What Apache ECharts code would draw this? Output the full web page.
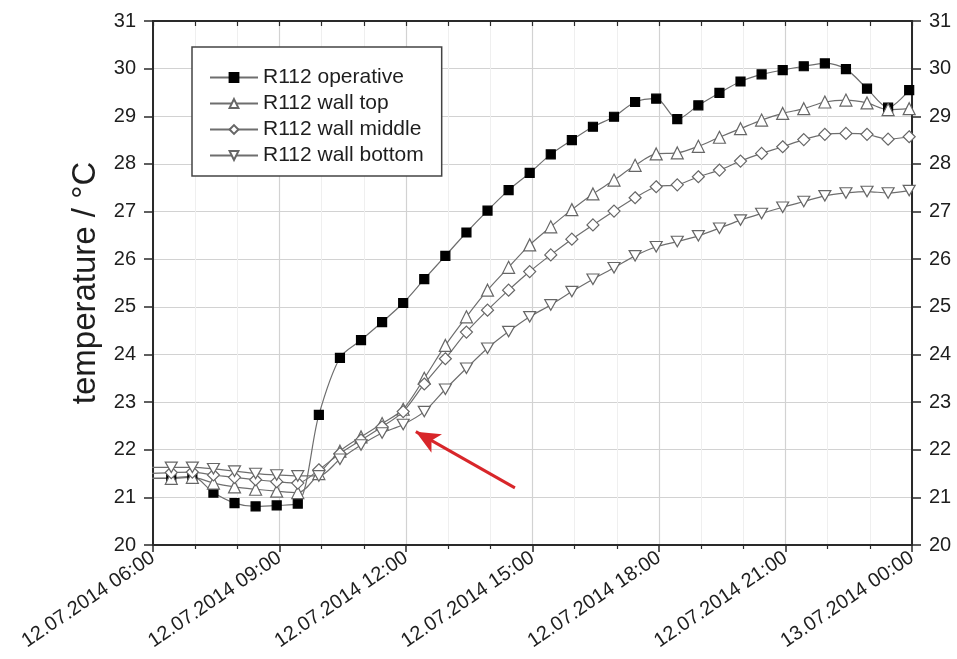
<!DOCTYPE html>
<html>
<head>
<meta charset="utf-8">
<script src="https://cdn.jsdelivr.net/npm/echarts@6/dist/echarts.min.js"></script>
<style>
  html, body { margin: 0; padding: 0; background: #fff; }
  #chart { width: 957px; height: 659px; }
</style>
</head>
<body>
<div id="chart"></div>
<script>
// Measurement times on 12.07.2014 (half-hourly readings)
const times = ['05:56','06:26','06:56','07:26','07:56','08:26','08:56','09:26','09:56','10:26',
  '10:56','11:26','11:56','12:26','12:56','13:26','13:56','14:26','14:56','15:26',
  '15:56','16:26','16:56','17:26','17:56','18:26','18:56','19:26','19:56','20:26',
  '20:56','21:26','21:56','22:26','22:56','23:26','23:56'];

// Temperatures in °C
const operative = [21.40, 21.41, 21.44, 21.10, 20.88, 20.81, 20.83, 20.87, 22.73, 23.93,
  24.30, 24.68, 25.08, 25.58, 26.07, 26.56, 27.02, 27.45, 27.81, 28.20,
  28.50, 28.78, 28.99, 29.30, 29.37, 28.94, 29.23, 29.49, 29.73, 29.88,
  29.97, 30.05, 30.11, 29.99, 29.58, 29.18, 29.55];
const wallTop = [21.40, 21.40, 21.42, 21.30, 21.22, 21.17, 21.13, 21.10, 21.50, 21.97,
  22.27, 22.55, 22.85, 23.50, 24.19, 24.79, 25.35, 25.83, 26.30, 26.68,
  27.04, 27.37, 27.66, 27.97, 28.21, 28.23, 28.37, 28.56, 28.74, 28.92,
  29.06, 29.16, 29.30, 29.34, 29.28, 29.14, 29.16];
const wallMiddle = [21.50, 21.52, 21.53, 21.47, 21.42, 21.37, 21.33, 21.30, 21.58, 21.92,
  22.20, 22.48, 22.80, 23.38, 23.91, 24.47, 24.93, 25.35, 25.74, 26.09,
  26.42, 26.72, 27.01, 27.29, 27.52, 27.56, 27.73, 27.87, 28.06, 28.22,
  28.36, 28.51, 28.62, 28.64, 28.62, 28.52, 28.57];
const wallBottom = [21.63, 21.63, 21.63, 21.60, 21.55, 21.50, 21.47, 21.45, 21.45, 21.80,
  22.10, 22.35, 22.53, 22.80, 23.27, 23.71, 24.13, 24.48, 24.79, 25.04,
  25.32, 25.58, 25.82, 26.07, 26.26, 26.37, 26.49, 26.65, 26.82, 26.96,
  27.09, 27.21, 27.33, 27.39, 27.42, 27.39, 27.44];

const seriesNames = ['R112 operative', 'R112 wall top', 'R112 wall middle', 'R112 wall bottom'];

// Axis tick labels (every 3 hours from 06:00)
const xTickLabels = ['12.07.2014 06:00', '12.07.2014 09:00', '12.07.2014 12:00',
  '12.07.2014 15:00', '12.07.2014 18:00', '12.07.2014 21:00', '13.07.2014 00:00'];

// Red annotation arrow: tail and head as [time, °C]
const arrowTail = ['14:35', 21.20];
const arrowHead = ['12:14', 22.38];

const hourOf = s => { const p = s.split(':').map(Number); return p[0] + p[1] / 60; };
const pairs = vals => times.map((t, i) => [hourOf(t), vals[i]]);

const FONT = '"Liberation Sans", Arial, sans-serif';
const AXIS_COLOR = '#2a2a2a';
const TEXT_COLOR = '#1e1e1e';
const LINE_COLOR = '#6e6e6e';
const downTriangle = 'path://M0,0 L10,0 L5,8.66 Z';

function lineSeries(name, vals, symbol, size, fill) {
  return {
    name: name,
    type: 'line',
    data: pairs(vals),
    xAxisIndex: 0,
    yAxisIndex: 0,
    smooth: 0.3,
    symbol: symbol,
    symbolSize: size,
    showAllSymbol: true,
    clip: true,
    lineStyle: { color: LINE_COLOR, width: 1.2 },
    itemStyle: { color: fill, borderColor: fill === '#000' ? '#000' : '#666', borderWidth: 1.2 },
    emphasis: { disabled: true }
  };
}

const series = [
  lineSeries(seriesNames[0], operative, 'rect', 9, '#000'),
  lineSeries(seriesNames[1], wallTop, 'triangle', 12, '#fff'),
  lineSeries(seriesNames[2], wallMiddle, 'diamond', 12, '#fff'),
  lineSeries(seriesNames[3], wallBottom, downTriangle, [12, 10.5], '#fff')
];

series[3].markLine = {
  silent: true,
  symbol: ['none', 'arrow'],
  symbolSize: [16, 24],
  label: { show: false },
  lineStyle: { color: '#d8262a', width: 3, type: 'solid' },
  data: [[
    { coord: [hourOf(arrowTail[0]), arrowTail[1]] },
    { coord: [hourOf(arrowHead[0]), arrowHead[1]] }
  ]]
};

const chart = echarts.init(document.getElementById('chart'), null, { renderer: 'canvas' });

chart.setOption({
  animation: false,
  backgroundColor: '#fff',
  textStyle: { fontFamily: FONT },
  grid: { left: 153, right: 45, top: 21, bottom: 114, containLabel: false },
  legend: {
    data: seriesNames,
    orient: 'vertical',
    left: 192,
    top: 47,
    itemWidth: 48,
    itemHeight: 11,
    itemGap: 5,
    padding: [20, 18, 10, 17],
    borderColor: '#444',
    borderWidth: 1.5,
    backgroundColor: '#fff',
    selectedMode: false,
    textStyle: { fontFamily: FONT, fontSize: 21, color: TEXT_COLOR, lineHeight: 21 }
  },
  xAxis: [
    {
      type: 'value',
      position: 'bottom',
      min: 6, max: 24, interval: 3,
      axisLine: { onZero: false, lineStyle: { color: AXIS_COLOR, width: 2 } },
      axisTick: { show: true, length: 7, lineStyle: { color: AXIS_COLOR, width: 1.5 } },
      minorTick: { show: true, splitNumber: 3, length: 4, lineStyle: { color: AXIS_COLOR, width: 1.2 } },
      splitLine: { show: true, lineStyle: { color: '#d2d2d2', width: 1.2 } },
      minorSplitLine: { show: true, lineStyle: { color: '#efefef', width: 1 } },
      axisLabel: {
        rotate: 34,
        margin: 11,
        fontSize: 20,
        color: TEXT_COLOR,
        fontFamily: FONT,
        showMinLabel: true,
        showMaxLabel: true,
        formatter: v => xTickLabels[Math.round((v - 6) / 3)]
      }
    },
    {
      type: 'value',
      position: 'top',
      min: 6, max: 24, interval: 1,
      axisLine: { onZero: false, lineStyle: { color: AXIS_COLOR, width: 2 } },
      axisTick: { show: true, inside: true, length: 5, lineStyle: { color: AXIS_COLOR, width: 1.2 } },
      axisLabel: { show: false },
      splitLine: { show: false }
    }
  ],
  yAxis: [
    {
      type: 'value',
      position: 'left',
      min: 20, max: 31, interval: 1,
      name: 'temperature / °C',
      nameLocation: 'middle',
      nameGap: 50,
      nameTextStyle: { fontSize: 33, color: TEXT_COLOR, fontFamily: FONT },
      axisLine: { show: true, onZero: false, lineStyle: { color: AXIS_COLOR, width: 2 } },
      axisTick: { show: true, length: 9, lineStyle: { color: AXIS_COLOR, width: 1.5 } },
      axisLabel: { fontSize: 20, color: TEXT_COLOR, margin: 17, fontFamily: FONT },
      splitLine: { show: true, lineStyle: { color: '#d2d2d2', width: 1.2 } }
    },
    {
      type: 'value',
      position: 'right',
      min: 20, max: 31, interval: 1,
      axisLine: { show: true, onZero: false, lineStyle: { color: AXIS_COLOR, width: 2 } },
      axisTick: { show: true, length: 9, lineStyle: { color: AXIS_COLOR, width: 1.5 } },
      axisLabel: { fontSize: 20, color: TEXT_COLOR, margin: 17, fontFamily: FONT },
      splitLine: { show: false }
    }
  ],
  series: series
});
</script>
</body>
</html>
